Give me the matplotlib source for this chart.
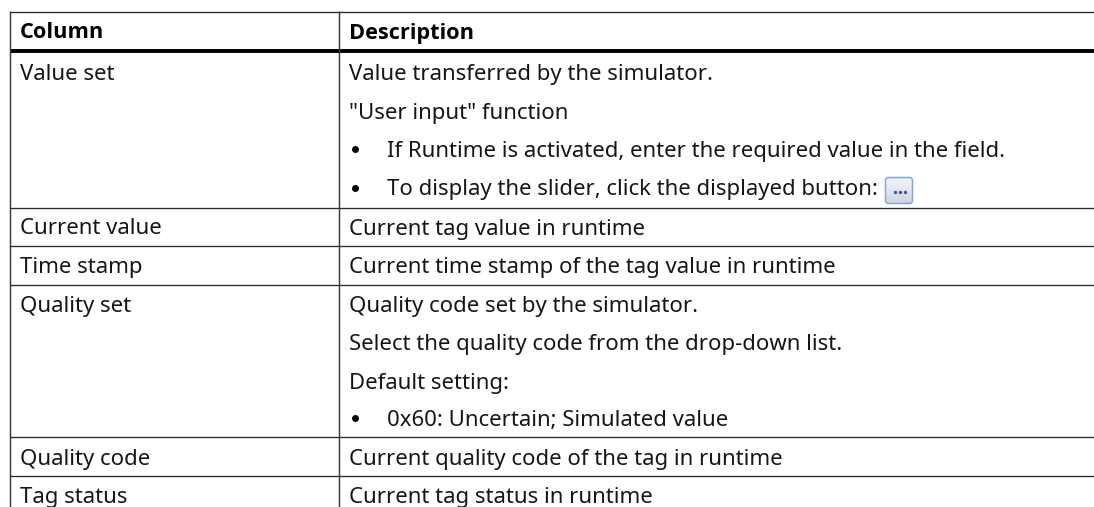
import matplotlib
matplotlib.use("Agg")
import matplotlib.pyplot as plt
from matplotlib.patches import FancyBboxPatch
import numpy as np

W, H = 1094, 507
columns = ["Column", "Description"]
row_names = ["Value set", "Current value", "Time stamp", "Quality set", "Quality code", "Tag status"]
row_name_y = [80, 234.5, 273, 312, 464.5, 503]
desc_lines = [
    (80, False, "Value transferred by the simulator."),
    (118.5, False, '"User input" function'),
    (157, True, "If Runtime is activated, enter the required value in the field."),
    (195.5, True, "To display the slider, click the displayed button:"),
    (234.5, False, "Current tag value in runtime"),
    (273, False, "Current time stamp of the tag value in runtime"),
    (312, False, "Quality code set by the simulator."),
    (350, False, "Select the quality code from the drop-down list."),
    (388.5, False, "Default setting:"),
    (426, True, "0x60: Uncertain; Simulated value"),
    (464.5, False, "Current quality code of the tag in runtime"),
    (503, False, "Current tag status in runtime"),
]
h_lines = [11.7, 51.2, 207.7, 246, 284.7, 437.3, 475.7]

plt.rcParams["font.family"] = ["Noto Sans", "DejaVu Sans"]
fig = plt.figure(figsize=(W / 100, H / 100), dpi=100)
ax = fig.add_axes([0, 0, 1, 1])
ax.set_xlim(0, W)
ax.set_ylim(H, 0)
ax.axis("off")

c = "#2a2a2a"
for y in h_lines:
    ax.plot([10, W], [y, y], color="black" if y == 51.2 else c,
            lw=2.8 if y == 51.2 else 0.95, solid_capstyle="butt")
for x in [10.3, 338.8]:
    ax.plot([x, x], [11.2, H], color="#3a3a3a", lw=1.05, solid_capstyle="butt")

fs = 15.95
tc = "#161616"
ax.text(20, 38.5, columns[0], fontsize=15.7, fontweight="bold", family=["Open Sans", "DejaVu Sans"],
        va="baseline", color="black")
ax.text(349, 38.5, columns[1], fontsize=15.7, fontweight="bold", family=["Open Sans", "DejaVu Sans"],
        va="baseline", color="black")
for y, name in zip(row_name_y, row_names):
    ax.text(20, y, name, fontsize=fs, va="baseline", color=tc)
for y, bullet, line in desc_lines:
    if bullet:
        ax.plot([355], [y - 8], marker="o", ms=5, color="black", mew=0)
        ax.text(387, y, line, fontsize=fs, va="baseline", color=tc)
    else:
        ax.text(349, y, line, fontsize=fs, va="baseline", color=tc)

# small "..." button with a soft vertical gradient
box = FancyBboxPatch((885.5, 177.5), 27, 26, boxstyle="round,pad=0,rounding_size=3",
                     fc="none", ec="#8aa6cf", lw=1.1, zorder=3)
ax.add_patch(box)
grad = np.linspace(0, 1, 32).reshape(-1, 1)
im = ax.imshow(grad, extent=(885.5, 912.5, 203.5, 177.5), cmap=matplotlib.colors.LinearSegmentedColormap.from_list(
    "btn", ["#f2f4f8", "#e4e8ee", "#cfd6e0"]), aspect="auto", zorder=2)
im.set_clip_path(box)
ax.set_xlim(0, W)
ax.set_ylim(H, 0)
for dot_x in [895, 900, 905]:
    ax.plot([dot_x], [191.8], ls="none", marker="o", ms=2.5, color="#4456b0", mew=0, zorder=4)

fig.savefig("out.png", dpi=100)
